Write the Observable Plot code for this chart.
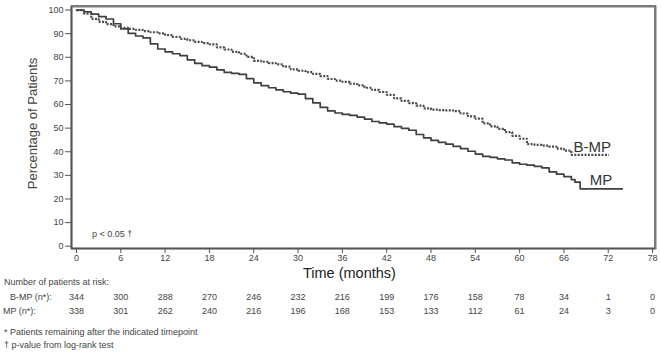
<!DOCTYPE html>
<html><head><meta charset="utf-8">
<script src="https://cdn.jsdelivr.net/npm/d3@7"></script>
<script src="https://cdn.jsdelivr.net/npm/@observablehq/plot@0.6"></script>
<style>
body{margin:0;background:#fff;}
#wrap{position:relative;width:661px;height:352px;overflow:hidden;font-family:"Liberation Sans",Arial,sans-serif;color:#444;background:#fff}
#wrap svg{position:absolute;left:0;font-family:"Liberation Sans",Arial,sans-serif;color:#444}
.t{position:absolute;white-space:nowrap;line-height:1;}
#box{position:absolute;left:71px;top:5px;width:585px;height:243px;box-sizing:border-box;border-top:2px solid #7a7a7a;border-right:2px solid #7a7a7a;pointer-events:none}
</style></head><body><div id="wrap"></div>
<script>
// Kaplan-Meier readings (months, % of patients)
const bmpMonths = [0,1,2,3,4,5,6,7,8,9,10,11,12,13,14,15,16,17,18,19,20,21,22,23,24,25,26,27,28,29,30,31,32,33,34,35,36,37,38,39,40,41,42,43,44,45,46,47,48,49,50,51,52,53,54,55,56,57,58,59,60,61,62,63,64,65,66,67,72.1];
const bmpPct = [100,98.5,96.3,95,94,93.1,92.5,92,91.6,91.1,90.6,90.1,89.4,88.6,87.8,87.2,86.5,86,85.5,84.2,83.3,82.3,81.5,80.2,78.5,78.1,77.5,77,76,74.9,74.3,73.7,73,72,70.8,70.1,69.6,68.8,68.1,67.1,66.2,65.3,64.1,62.6,61.5,60.6,59.5,58.4,57.8,57.6,57.5,57.2,56.2,55,54,52,50.7,49.7,48.3,46.7,45.5,43.2,42.9,42.6,42.2,41.3,40.5,38.7,38.7];
const mpMonths = [0,1,2,3,4,5,6,7,8,9,10,11,12,13,14,15,16,17,18,19,20,21,22,23,24,25,26,27,28,29,30,31,32,33,34,35,36,37,38,39,40,41,42,43,44,45,46,47,48,49,50,51,52,53,54,55,56,57,58,59,60,61,62,63,64,65,66,67,67.5,68.2,73.9];
const mpPct = [100,99.2,98.3,97.2,96.2,94.2,92,90.1,89,88.2,85.7,83.5,82.3,81.5,80.7,78.9,77.4,76.5,75.8,74.7,73.6,73.2,72.8,71,69.2,68,67.1,66.2,65.4,64.8,64.4,62.5,60.7,58.8,57.3,56.4,55.8,55.4,54.7,53.8,52.8,52.2,51.7,50.6,49.9,49.1,47.3,45.9,44.8,44,43.2,42.3,41.3,40.2,39,38,37.6,37,36.5,35.3,34.7,34.3,33.8,33.2,31.5,30.5,29.5,28.2,27.1,24.3,24.3];
const seriesNames = ["B-MP","MP"];
const xTicks = [0,6,12,18,24,30,36,42,48,54,60,66,72,78];
const yTicks = [0,10,20,30,40,50,60,70,80,90,100];
const riskBMP = [344,300,288,270,246,232,216,199,176,158,78,34,1,0];
const riskMP = [338,301,262,240,216,196,168,153,133,112,61,24,3,0];
const riskRowLabels = ["B-MP (n*):","MP (n*):"];

const xDomain = [-0.68, 78.4];
const yDomain = [-0.97, 101.5];

const bmp = bmpMonths.map((m,i)=>({m, v:bmpPct[i], s:seriesNames[0]}));
const mp = mpMonths.map((m,i)=>({m, v:mpPct[i], s:seriesNames[1]}));

const wrap = document.getElementById("wrap");
const W = 661, H = 264;

const main = Plot.plot({
  width: W, height: H,
  marginLeft: 71, marginRight: 6, marginTop: 6, marginBottom: H-248,
  x: {domain: xDomain},
  y: {domain: yDomain},
  marks: [
    Plot.frame({stroke: "#7a7a7a", strokeWidth: 2}),
    Plot.axisX({ticks: xTicks, tickSize: 5, tickPadding: 1, fontSize: 9, label: null, stroke: "#555", fill: "#444"}),
    Plot.axisY({ticks: yTicks, tickSize: 6, tickPadding: 2, fontSize: 9, label: null, stroke: "#555", fill: "#444"}),
    Plot.line(mp, {x: "m", y: "v", curve: "step-after", stroke: "#3f3f3f", strokeWidth: 1.7}),
    Plot.line(bmp, {x: "m", y: "v", curve: "step-after", stroke: "#4a4a4a", strokeWidth: 2.2, strokeDasharray: "2,1.4", strokeLinecap: "butt", strokeLinejoin: "miter"}),
    Plot.text(bmp, Plot.selectLast({x: "m", y: "v", text: "s", textAnchor: "end", lineAnchor: "bottom", dx: 2, dy: -3, fontSize: 15, fill: "#333"})),
    Plot.text(mp, Plot.selectLast({x: "m", y: "v", text: "s", textAnchor: "end", lineAnchor: "bottom", dx: -10, dy: -4, fontSize: 15, fill: "#333"})),
    Plot.ruleX([xDomain[0]], {stroke: "#555", strokeWidth: 1.6}),
    Plot.ruleY([yDomain[0]], {stroke: "#555", strokeWidth: 1.6})
  ]
});
main.style.top = "0px";
wrap.appendChild(main);

const box = document.createElement("div");
box.id = "box";
wrap.appendChild(box);

// risk table drawn with same x scale
const riskRows = [];
xTicks.forEach((m,i)=>{
  riskRows.push({m, row: seriesNames[0], n: riskBMP[i]});
  riskRows.push({m, row: seriesNames[1], n: riskMP[i]});
});
const table = Plot.plot({
  width: W, height: 28,
  marginLeft: 71, marginRight: 6, marginTop: 0, marginBottom: 0,
  x: {domain: xDomain, axis: null},
  y: {type: "band", domain: seriesNames, axis: null, padding: 0},
  marks: [
    Plot.text(riskRows, {x: "m", y: "row", text: "n", fontSize: 9, fill: "#444"})
  ]
});
table.style.top = "290px";
wrap.appendChild(table);

function addText(txt, left, top, size, extra) {
  const d = document.createElement("div");
  d.className = "t";
  d.textContent = txt;
  d.style.left = left + "px";
  d.style.top = top + "px";
  d.style.fontSize = size + "px";
  if (extra) Object.assign(d.style, extra);
  wrap.appendChild(d);
  return d;
}
addText("Percentage of Patients", -35, 117, 13, {transform: "rotate(-90deg)", transformOrigin: "center", width: "134px", textAlign: "center"});
addText("Time (months)", 303, 266, 14.5, {color: "#222"});
addText("p < 0.05 †", 92, 230, 9);
addText("Number of patients at risk:", 4, 278, 9);
addText(riskRowLabels[0], 10, 293, 9);
addText(riskRowLabels[1], 3, 306.5, 9);
addText("* Patients remaining after the indicated timepoint", 4, 328, 9);
addText("† p-value from log-rank test", 4, 341, 9);
</script>
</body></html>
